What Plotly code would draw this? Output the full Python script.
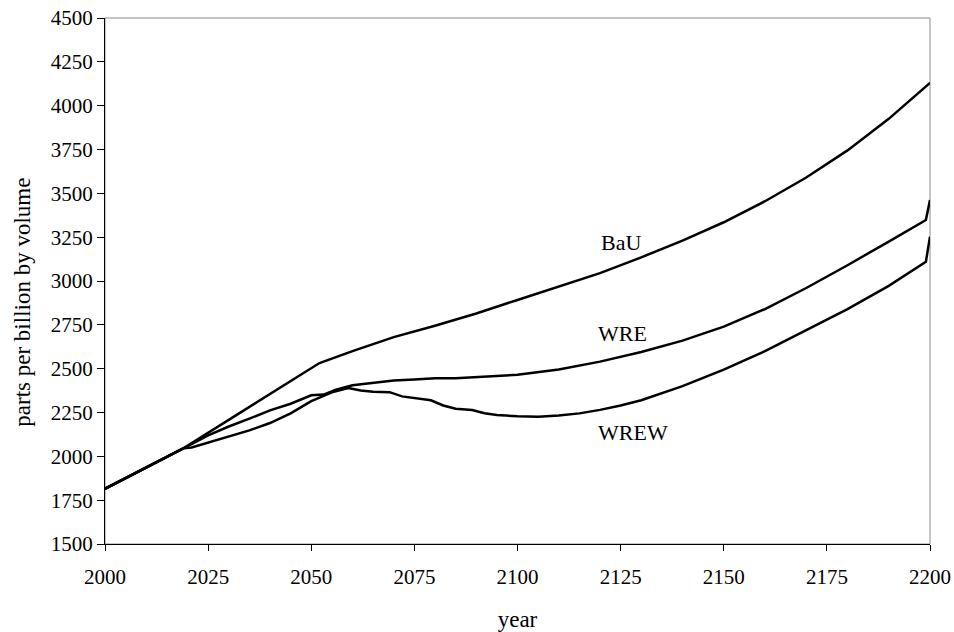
import plotly.graph_objects as go

# Data (ppbv)
bau_years = [2000, 2010, 2019, 2030, 2040, 2052, 2060, 2070, 2080, 2090, 2100, 2110, 2120,
             2130, 2140, 2150, 2160, 2170, 2180, 2190, 2200]
bau_vals = [1815, 1935, 2046, 2208, 2355, 2532, 2600, 2680, 2745, 2815, 2892, 2968, 3045,
            3135, 3230, 3335, 3455, 3590, 3745, 3925, 4130]

wre_years = [2000, 2010, 2019, 2025, 2030, 2035, 2040, 2045, 2050, 2053, 2056, 2060, 2065,
             2070, 2075, 2080, 2085, 2090, 2100, 2110, 2120, 2130, 2140, 2150, 2160,
             2170, 2180, 2190, 2199, 2200]
wre_vals = [1815, 1935, 2046, 2120, 2170, 2215, 2262, 2300, 2348, 2352, 2380, 2405, 2420,
            2432, 2438, 2446, 2445, 2452, 2465, 2495, 2540, 2595, 2660, 2740, 2840,
            2960, 3090, 3225, 3348, 3462]

wrew_years = [2000, 2010, 2019, 2021, 2025, 2030, 2035, 2040, 2045, 2050, 2055, 2059, 2062,
              2065, 2069, 2072, 2075, 2079, 2082, 2085, 2089, 2092, 2095, 2100, 2105,
              2110, 2115, 2120, 2125, 2130, 2140, 2150, 2160, 2170, 2180, 2190, 2199, 2200]
wrew_vals = [1815, 1935, 2046, 2050, 2078, 2115, 2148, 2190, 2245, 2315, 2365, 2390, 2375,
             2368, 2366, 2342, 2332, 2320, 2290, 2272, 2264, 2246, 2236, 2228, 2226,
             2233, 2245, 2265, 2290, 2320, 2400, 2495, 2600, 2718, 2840, 2972, 3110, 3253]

series = [("BaU", bau_years, bau_vals), ("WRE", wre_years, wre_vals), ("WREW", wrew_years, wrew_vals)]

# Label positions (data coords) for in-chart series names
label_names = ["BaU", "WRE", "WREW"]
label_x = [2125, 2125.5, 2128]
label_y = [3220, 2703, 2135]

x_ticks = [2000, 2025, 2050, 2075, 2100, 2125, 2150, 2175, 2200]
y_ticks = [1500, 1750, 2000, 2250, 2500, 2750, 3000, 3250, 3500, 3750, 4000, 4250, 4500]

FONT = "Liberation Serif, Times New Roman, serif"

fig = go.Figure()
for name, xs, ys in series:
    fig.add_trace(go.Scatter(x=xs, y=ys, mode="lines", name=name,
                             line=dict(color="black", width=2.5), showlegend=False))

for n, lx, ly in zip(label_names, label_x, label_y):
    fig.add_annotation(x=lx, y=ly, text=n, showarrow=False,
                       font=dict(family=FONT, size=22, color="black"))

# y-axis title placed as annotation (sits slightly below the axis centre in the reference)
fig.add_annotation(xref="paper", yref="paper", x=-0.101, y=0.46, text="parts per billion by volume",
                   textangle=-90, showarrow=False, xanchor="center", yanchor="middle",
                   font=dict(family=FONT, size=23, color="black"))

# grey frame (top/right)
fig.add_shape(type="rect", xref="paper", yref="paper", x0=0, y0=0, x1=1, y1=1,
              line=dict(color="#8a8a8a", width=1), layer="below")

fig.update_layout(
    width=954, height=632,
    margin=dict(l=105, r=24, t=18, b=88, autoexpand=False),
    paper_bgcolor="white", plot_bgcolor="white",
    font=dict(family=FONT, size=21, color="black"),
    xaxis=dict(range=[2000, 2200], tickvals=x_ticks, ticks="outside", ticklen=6,
               tickcolor="black", showline=True, linecolor="black", linewidth=1,
               showgrid=False, zeroline=False, automargin=False, ticklabelstandoff=8,
               title=dict(text="year", font=dict(size=23), standoff=22)),
    yaxis=dict(range=[1500, 4500], tickvals=y_ticks, ticks="outside", ticklen=7,
               tickcolor="black", showline=True, linecolor="black", linewidth=1,
               showgrid=False, zeroline=False, automargin=False),
)

fig.write_html("out.html", config={"displayModeBar": False},
               post_script="document.body.style.margin='0';document.body.style.overflow='hidden';")
